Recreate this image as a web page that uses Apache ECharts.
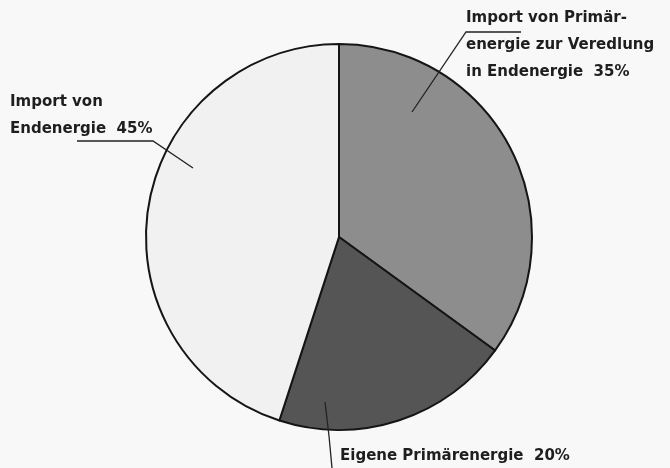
<!DOCTYPE html>
<html>
<head>
<meta charset="utf-8">
<script src="https://cdn.jsdelivr.net/npm/echarts@6/dist/echarts.min.js"></script>
<style>
  html, body { margin: 0; padding: 0; background: #f8f8f8; }
  #main { width: 670px; height: 468px; }
</style>
</head>
<body>
<div id="main"></div>
<script>
// Anteile am Energieaufkommen
const categories = [
  'Import von Primär-\nenergie zur Veredlung\nin Endenergie',
  'Eigene Primärenergie',
  'Import von\nEndenergie'
];
const values = [35, 20, 45];
const sliceColors = ['#8d8d8d', '#555555', '#f1f1f1'];

// Beschriftungen: Lage und Hinweislinien
const labelSpots = [
  { x: 466, y: 5, line: [[412, 112], [466, 32], [521, 32]] },
  { x: 340, y: 443, line: [[325, 402], [329, 436], [332, 468]] },
  { x: 10, y: 89, line: [[193, 168], [153, 141], [77, 141]] }
];

const chart = echarts.init(document.getElementById('main'));

const pieData = categories.map((c, i) => ({
  name: c,
  value: values[i],
  itemStyle: { color: sliceColors[i] }
}));
const labelData = categories.map((c, i) => ({ name: c, value: values[i] }));

const common = {
  type: 'pie',
  center: [339, 237],
  radius: 193,
  startAngle: 90,
  clockwise: true,
  emphasis: { disabled: true },
  silent: true
};

const option = {
  backgroundColor: '#f8f8f8',
  animation: false,
  series: [
    Object.assign({}, common, {
      z: 2,
      data: pieData,
      itemStyle: { borderColor: '#151515', borderWidth: 2 },
      label: { show: false },
      labelLine: { show: false }
    }),
    // zweite, unsichtbare Torte nur fuer Beschriftung und Linien (liegt oben)
    Object.assign({}, common, {
      z: 5,
      data: labelData,
      itemStyle: { color: 'rgba(0,0,0,0)', borderWidth: 0 },
      label: {
        show: true,
        position: 'outside',
        formatter: '{b}  {c}%',
        overflow: 'none',
        fontFamily: 'DejaVu Sans',
        fontSize: 15,
        fontWeight: 'bold',
        lineHeight: 27,
        color: '#1e1e1e'
      },
      labelLine: {
        show: true,
        smooth: false,
        lineStyle: { color: '#222', width: 1.3 }
      },
      labelLayout: function (params) {
        const s = labelSpots[params.dataIndex];
        return {
          x: s.x,
          y: s.y,
          align: 'left',
          verticalAlign: 'top',
          labelLinePoints: s.line
        };
      }
    })
  ]
};

chart.setOption(option, true);
window.addEventListener('resize', function () {
  chart.resize();
});
</script>
</body>
</html>
